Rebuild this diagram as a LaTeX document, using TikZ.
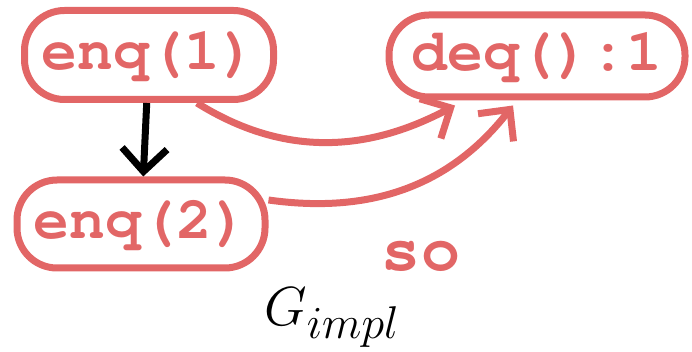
\RequirePackage{fix-cm}
\documentclass[tikz,border=0pt]{standalone}
\usetikzlibrary{arrows.meta,positioning}
\definecolor{soRed}{RGB}{226,102,102}
\newcommand{\opfont}{\fontencoding{T1}\fontfamily{pcr}\fontseries{b}\fontsize{34}{34}\selectfont}
\tikzset{
  opbox/.style={draw=soRed, line width=0.14cm, rounded corners=0.8cm, text=soRed,
    font=\opfont, inner sep=0pt},
  poedge/.style={line width=0.14cm, -{Straight Barb[length=0.46cm,width=0.9cm]}},
  soedge/.style={poedge, draw=soRed}
}

\begin{document}
\begin{tikzpicture}
  \useasboundingbox (0,0) rectangle (13.84,7.02);
  % operations
  \node[opbox, minimum width=4.98cm, minimum height=1.78cm] (enqOne) at (2.98,5.92) {enq(1)};
  \node[opbox, minimum width=5.92cm, minimum height=1.64cm] (deqOne) at (10.74,5.9) {deq():1};
  \node[opbox, minimum width=4.96cm, minimum height=1.76cm] (enqTwo) at (2.82,2.54) {enq(2)};
  % program order
  \draw[poedge] (enqOne) -- (enqTwo);
  % synchronisation order
  \draw[soedge] (enqOne.315) to[out=-32, in=-152] ([xshift=-1.64cm,yshift=-0.1cm]deqOne.south);
  \draw[soedge] ([yshift=0.48cm]enqTwo.east) to[out=-8, in=-128] ([xshift=-0.48cm,yshift=-0.1cm]deqOne.south);
  \node[text=soRed, font=\opfont\fontsize{37}{37}\selectfont] (soLbl) at (8.42,1.9) {so};
  \node[font=\fontsize{24.88}{30}\selectfont] (gImpl) at (6.64,0.66) {\scalebox{1.26}{$G_{impl}$}};
\end{tikzpicture}
\end{document}
